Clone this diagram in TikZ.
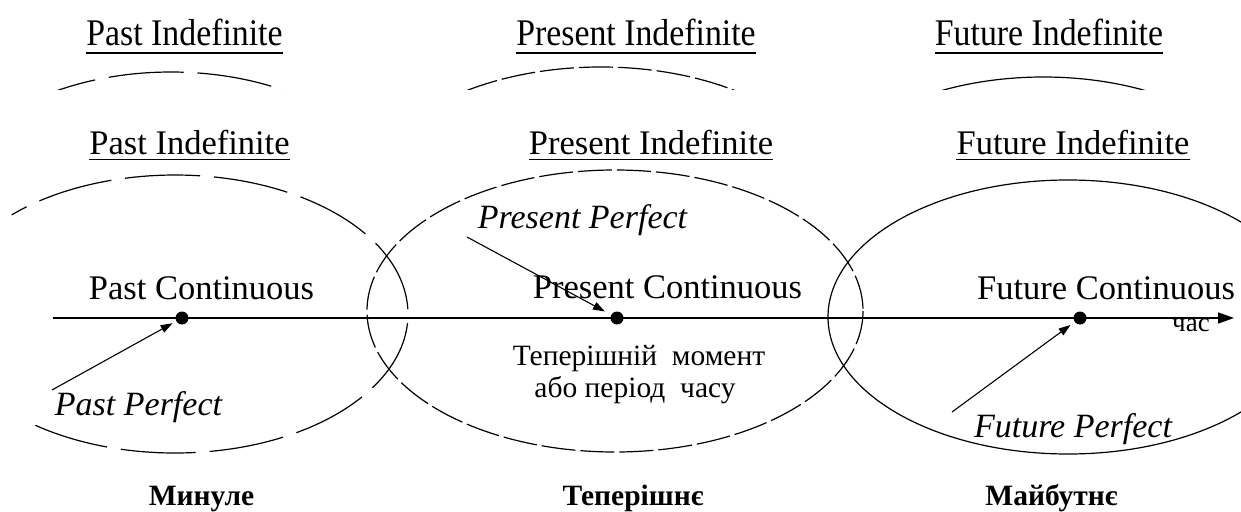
\documentclass[tikz,border=0pt]{standalone}
\usepackage{fontspec}
\setmainfont{Liberation Serif}
\usepackage{graphicx}
\usetikzlibrary{arrows.meta}
\tikzset{
 ttl/.style={inner sep=0pt, anchor=base, font=\fontsize{34.5}{40}\selectfont},
 lbl/.style={inner sep=0pt, anchor=base, font=\fontsize{34.5}{40}\selectfont},
 itl/.style={inner sep=0pt, anchor=base, font=\fontsize{34}{40}\selectfont\itshape},
 sml/.style={inner sep=0pt, anchor=base, font=\fontsize{29.5}{34}\selectfont},
 bld/.style={inner sep=0pt, anchor=base, font=\fontsize{29.5}{34}\selectfont\bfseries},
 tiny/.style={inner sep=0pt, anchor=north, font=\fontsize{27}{30}\selectfont},
 uline/.style={line width=1.6pt},
 ell/.style={line width=1.2pt},
 dotn/.style={circle, fill, inner sep=0pt, minimum size=13pt},
 arr/.style={line width=1.1pt, -{Triangle[length=12pt,width=8pt]}},
 axisl/.style={line width=1.5pt, -{Triangle[length=16pt,width=11pt]}},
}
\newcommand\myellipses{%
 \draw[ell, dash pattern=on 75pt off 14pt] (35.4,425.3) arc[start angle=126.8, end angle=-134.5, x radius=233, y radius=139];
 \draw[ell, dash pattern=on 34pt off 5pt] (615,311) ellipse[x radius=248, y radius=141];
 \draw[ell] (1068,317) ellipse[x radius=240, y radius=137];
}
\begin{document}
\begin{tikzpicture}[x=1pt,y=-1pt]
\useasboundingbox (0,0) rectangle (1241,511);
\clip (0,0) rectangle (1241,511);
\fill[white] (0,0) rectangle (1241,511);

% top strip
\node[ttl] (tt1) at (184.5,46) {\scalebox{0.98}[1.09]{Past Indefinite}};
\node[ttl] (tt2) at (636,46) {\scalebox{0.98}[1.09]{Present Indefinite}};
\node[ttl] (tt3) at (1049,46) {\scalebox{0.98}[1.09]{Future Indefinite}};
\foreach \n in {tt1,tt2,tt3}
  \draw[uline] ([yshift=-7pt]\n.base west) -- ([yshift=-7pt]\n.base east);
\begin{scope}
 \clip (0,0) rectangle (1241,89);
 \begin{scope}[shift={(0,-103)}, xscale=0.977]
  \myellipses
 \end{scope}
\end{scope}

% main titles
\node[ttl] (ti1) at (189.5,154) {Past Indefinite};
\node[ttl] (ti2) at (651,154) {Present Indefinite};
\node[ttl] (ti3) at (1073,154) {Future Indefinite};
\foreach \n in {ti1,ti2,ti3}
  \draw[uline] ([yshift=-5.5pt]\n.base west) -- ([yshift=-5.5pt]\n.base east);

% ellipses
\myellipses

% axis
\coordinate (ax0) at (53,318);
\coordinate (ax1) at (1234,318);
\draw[axisl] (ax0) -- (ax1);
\node[tiny] (chas) at (1191,319) {час};

% dots
\node[dotn] (d1) at (182,318) {};
\node[dotn] (d2) at (617,318) {};
\node[dotn] (d3) at (1080,318) {};

% labels
\node[lbl] (pc) at (201.5,299) {Past Continuous};
\node[lbl] (prc) at (667.5,298) {Present Continuous};
\node[lbl] (fc) at (1106,299) {Future Continuous};

\node[itl] (pp) at (138.5,415) {Past Perfect};
\node[itl] (prp) at (582.5,228) {Present Perfect};
\node[itl] (fp) at (1073,437) {Future Perfect};

\coordinate (pp0) at (52,390);
\coordinate (prp0) at (467,237);
\coordinate (fp0) at (952,412);
\draw[arr, shorten >=4pt] (pp0) -- (d1);
\draw[arr, shorten >=7pt] (prp0) -- (d2);
\draw[arr, shorten >=5pt] (fp0) -- (d3);

\node[sml] (t1) at (639,365) {Теперішній\ \ момент};
\node[sml] (t2) at (635,397) {або період\ \ часу};

\node[bld] (b1) at (201.5,505) {Минуле};
\node[bld] (b2) at (633,505) {Теперішнє};
\node[bld] (b3) at (1051.5,505) {Майбутнє};
\end{tikzpicture}
\end{document}
